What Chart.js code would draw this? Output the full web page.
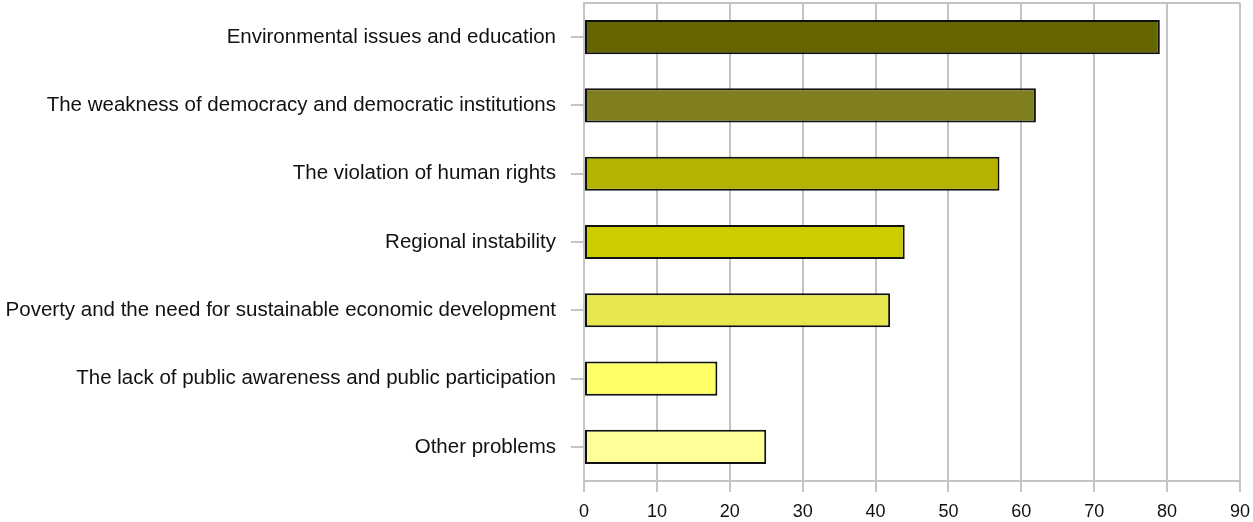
<!DOCTYPE html>
<html>
<head>
<meta charset="utf-8">
<script src="https://cdn.jsdelivr.net/npm/chart.js@4.4.1/dist/chart.umd.min.js"></script>
<style>
html,body{margin:0;padding:0;background:#fff;}
#wrap{width:1253px;height:522px;position:relative;}
</style>
</head>
<body>
<div id="wrap"><canvas id="c"></canvas></div>
<script>
const categories = [
  "Environmental issues and education",
  "The weakness of democracy and democratic institutions",
  "The violation of human rights",
  "Regional instability",
  "Poverty and the need for sustainable economic development",
  "The lack of public awareness and public participation",
  "Other problems"
];
const values = [79, 62, 57, 44, 42, 18.3, 25];
const barColors = ["#666600", "#7f7f1f", "#b4b400", "#cccc00", "#e6e64d", "#ffff66", "#ffff99"];
const xTicks = [0, 10, 20, 30, 40, 50, 60, 70, 80, 90];

const gridColor = "#c4c4c4";
const framePlugin = {
  id: "frame",
  beforeDatasetsDraw(chart) {
    const a = chart.chartArea, ctx = chart.ctx;
    ctx.save();
    ctx.strokeStyle = gridColor;
    ctx.lineWidth = 2;
    ctx.beginPath();
    ctx.moveTo(a.left, a.top);
    ctx.lineTo(a.right, a.top);
    ctx.stroke();
    ctx.restore();
  }
};

new Chart(document.getElementById("c"), {
  type: "bar",
  data: {
    labels: categories,
    datasets: [{
      data: values,
      backgroundColor: barColors,
      borderColor: "#111",
      borderWidth: 2,
      borderSkipped: false,
      categoryPercentage: 1,
      barPercentage: 0.5
    }]
  },
  options: {
    indexAxis: "y",
    responsive: true,
    maintainAspectRatio: false,
    animation: false,
    layout: { padding: { left: 0, right: 13, top: 3, bottom: 0 } },
    plugins: { legend: { display: false }, tooltip: { enabled: false } },
    scales: {
      x: {
        min: 0, max: 90,
        afterBuildTicks(scale) { scale.ticks = xTicks.map(v => ({ value: v })); },
        afterFit(scale) { scale.height = 41; scale.paddingLeft = 0; scale.paddingRight = 0; },
        grid: { color: gridColor, lineWidth: 2, tickLength: 11, drawTicks: true },
        border: { color: gridColor, width: 2 },
        ticks: { color: "#111", font: { family: "Liberation Sans", size: 18 }, padding: 9, autoSkip: false, maxRotation: 0 }
      },
      y: {
        afterFit(scale) { scale.width = 584; scale.paddingTop = 0; scale.paddingBottom = 0; },
        grid: { drawOnChartArea: false, drawTicks: true, tickLength: 13, offset: false, color: gridColor, lineWidth: 2 },
        border: { color: gridColor, width: 2 },
        ticks: { color: "#111", font: { family: "Liberation Sans", size: 20.5 }, padding: 15, autoSkip: false }
      }
    }
  },
  plugins: [framePlugin]
});
</script>
</body>
</html>
